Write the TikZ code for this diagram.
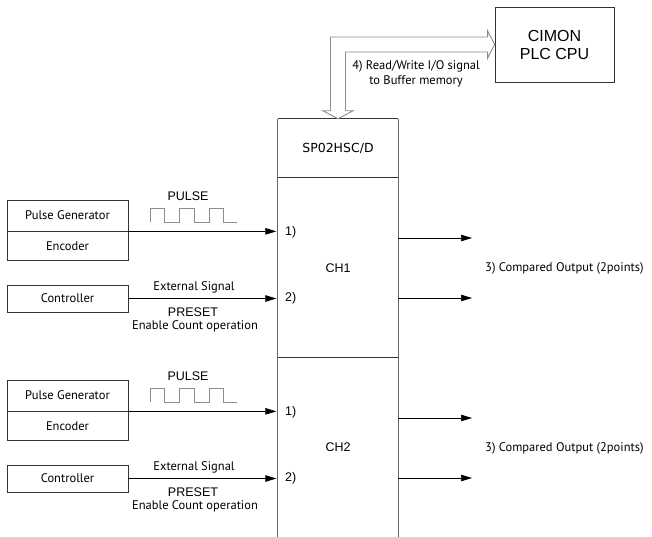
\documentclass[tikz,border=0pt]{standalone}
\usepackage{fontspec}
\setmainfont{Liberation Sans}
\newfontfamily\labelfont{PT Sans}
\newfontfamily\modfont{DejaVu Sans}
\usepackage{tikz}
\usetikzlibrary{positioning,calc,arrows.meta}

\begin{document}
\begin{tikzpicture}[x=1pt, y=-1pt,
    box/.style={draw=black!80, line width=0.7pt, minimum width=121pt, inner sep=0pt, font=\labelfont\fontsize{12.5}{14}\selectfont},
    signal/.style={-{Triangle[length=11pt,width=6.5pt]}, line width=0.7pt},
    wave/.style={draw=black!45, line width=0.9pt},
    note/.style={font=\labelfont\fontsize{12.5}{14}\selectfont, inner sep=0pt},
    big/.style={font=\fontsize{12.5}{14}\selectfont, inner sep=0pt},
    bus/.style={draw=black!45, line width=0.9pt, fill=white}]
    \useasboundingbox (0,0) rectangle (652,537);

    \node[draw=black!80, line width=0.7pt, minimum width=119pt, minimum height=75pt, align=center, font=\fontsize{16}{18}\selectfont] (cpu) at (554.5,44.5) {CIMON\\PLC CPU};
    \node[minimum width=120pt, minimum height=59pt, font=\modfont\fontsize{12.5}{14}\selectfont] (top) at (338,148.5) {SP02HSC/D};
    \node[minimum width=120pt, minimum height=180pt, big] (ch1) at (338,268) {CH1};
    \node[minimum width=120pt, minimum height=179pt, big] (ch2) at (338,447.5) {CH2};
    \draw[black!80, line width=0.7pt] (top.north west) -- (top.north east) (ch1.north west) -- (ch1.north east) (ch2.north west) -- (ch2.north east);
    \draw[black!60, line width=1.2pt] (top.north west) -- (ch2.south west) (top.north east) -- (ch2.south east);

    \draw[bus] (top.north) -- ++(-15,-8) -- ++(7.5,0) |- ($(cpu.west)+(-7,-7.5)$) -- ++(0,-6) -- (cpu.west) -- ++(-7,13.5) -- ++(0,-6) -| ($(top.north)+(7.5,-8)$) -- ++(7.5,0) -- cycle;
    \node[font=\labelfont\fontsize{12.5}{15}\selectfont, inner sep=0pt, align=center] (buslbl) at (416,74) {4) Read/Write I/O signal\\to Buffer memory};

    \node[box, minimum height=31pt] (pg1) at (67.5,215.5) {Pulse Generator};
    \node[box, minimum height=29pt, below=0pt of pg1] (enc1) {Encoder};
    \node[box, minimum height=27pt] (ctl1) at (67.5,298.5) {Controller};
    \node[big] (pulse1) at (188,196) {PULSE};
    \draw[wave] (150,222) -- ++(0,-14) -- ++(14,0) -- ++(0,14) -- ++(15,0) -- ++(0,-14) -- ++(15,0) -- ++(0,14) -- ++(15,0) -- ++(0,-14) -- ++(14,0) -- ++(0,14) -- ++(14,0);
    \node[big, anchor=west] (in1a) at (285,232) {1)};
    \node[big, anchor=west] (in1b) at (285,298) {2)};
    \draw[signal, shorten >=1.5pt] (pg1.south east) -- (pg1.south east -| ch1.west);
    \draw[signal, shorten >=1.5pt] (ctl1.east) -- (ctl1.east -| ch1.west);
    \node[note] (ext1) at (194,287) {External Signal};
    \node[big] (pre1) at (193,312) {PRESET};
    \node[note] (en1) at (195,326) {Enable Count operation};
    \coordinate (o1a) at (472,238);
    \coordinate (o1b) at (472,298);
    \draw[signal] (o1a -| ch1.east) -- (o1a);
    \draw[signal] (o1b -| ch1.east) -- (o1b);
    \node[note, anchor=west] (out1) at (485,268) {3) Compared Output (2points)};

    \node[box, minimum height=31pt] (pg2) at (67.5,395.5) {Pulse Generator};
    \node[box, minimum height=29pt, below=0pt of pg2] (enc2) {Encoder};
    \node[box, minimum height=27pt] (ctl2) at (67.5,478.5) {Controller};
    \node[big] (pulse2) at (188,376) {PULSE};
    \draw[wave] (150,402) -- ++(0,-14) -- ++(14,0) -- ++(0,14) -- ++(15,0) -- ++(0,-14) -- ++(15,0) -- ++(0,14) -- ++(15,0) -- ++(0,-14) -- ++(14,0) -- ++(0,14) -- ++(14,0);
    \node[big, anchor=west] (in2a) at (285,412) {1)};
    \node[big, anchor=west] (in2b) at (285,478) {2)};
    \draw[signal, shorten >=1.5pt] (pg2.south east) -- (pg2.south east -| ch2.west);
    \draw[signal, shorten >=1.5pt] (ctl2.east) -- (ctl2.east -| ch2.west);
    \node[note] (ext2) at (194,467) {External Signal};
    \node[big] (pre2) at (193,492) {PRESET};
    \node[note] (en2) at (195,506) {Enable Count operation};
    \coordinate (o2a) at (472,418);
    \coordinate (o2b) at (472,478);
    \draw[signal] (o2a -| ch2.east) -- (o2a);
    \draw[signal] (o2b -| ch2.east) -- (o2b);
    \node[note, anchor=west] (out2) at (485,448) {3) Compared Output (2points)};
\end{tikzpicture}
\end{document}
